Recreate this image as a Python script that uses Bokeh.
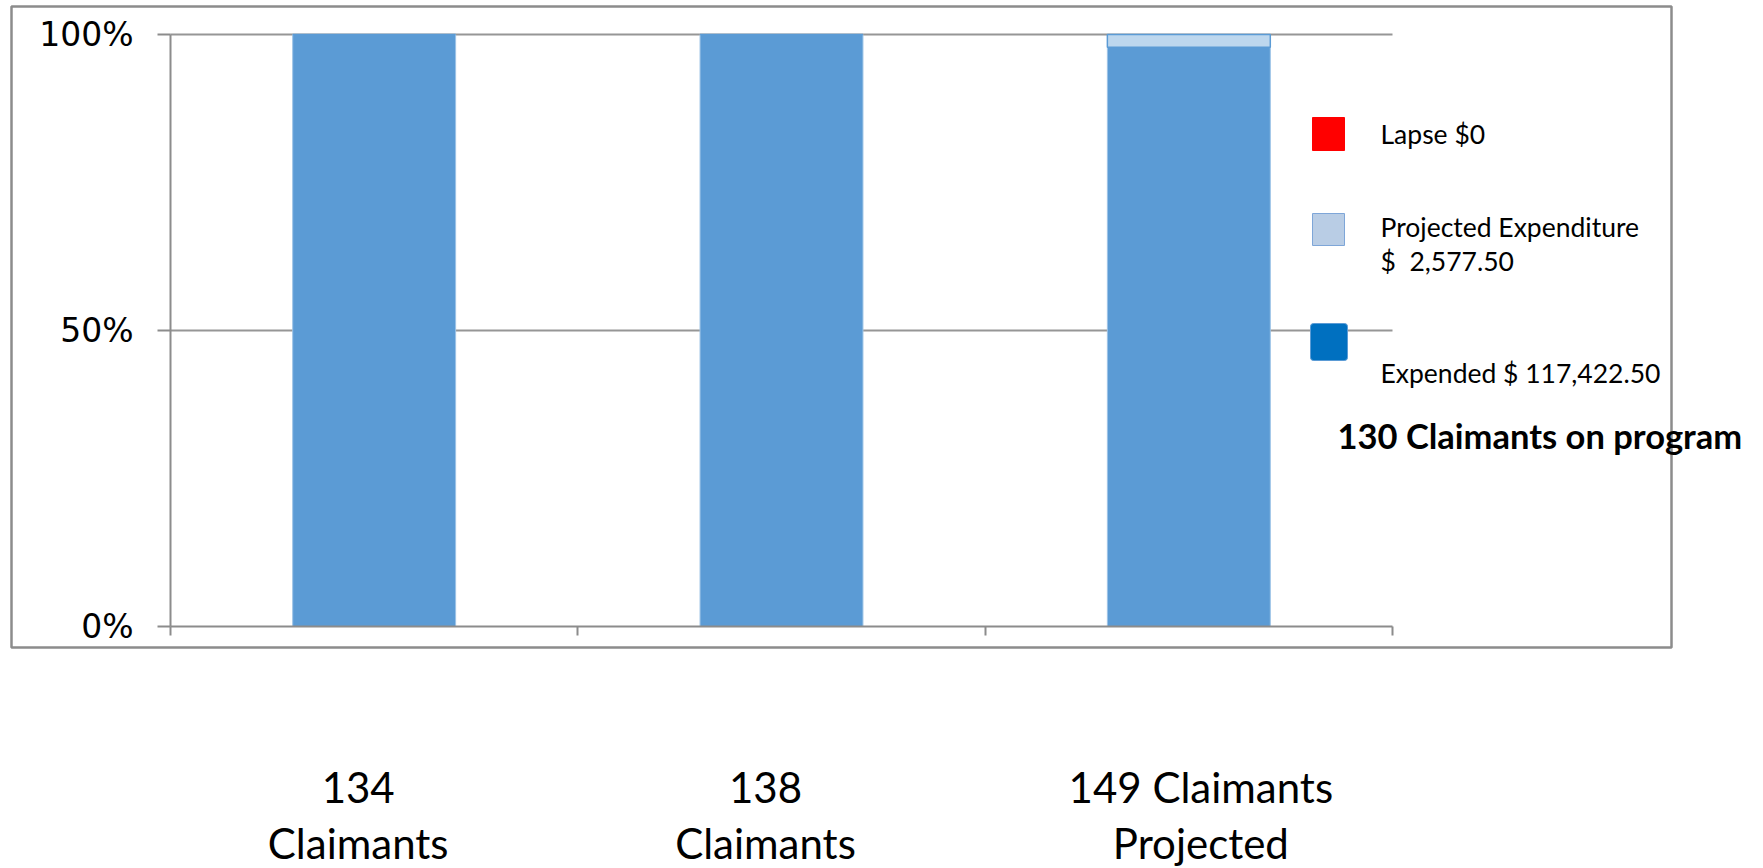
from bokeh.plotting import figure
from bokeh.models import Range1d, FixedTicker, Label, BoxAnnotation
from bokeh.embed import file_html
from bokeh.resources import INLINE

# ---------------- data ----------------
categories = ["134\nClaimants", "138\nClaimants", "149 Claimants\nProjected"]
expended_amount = 117422.50
projected_amount = 2577.50
lapse_amount = 0.0
total_amount = expended_amount + projected_amount + lapse_amount
expended_share = [1.0, 1.0, expended_amount / total_amount]
projected_share = [0.0, 0.0, projected_amount / total_amount]
lapse_share = [0.0, 0.0, lapse_amount / total_amount]
y_ticks = [0.0, 0.5, 1.0]
y_tick_labels = ["0%", "50%", "100%"]
grid_ticks = [0.5, 1.0]
legend_lines = [["Lapse $0"], ["Projected Expenditure", "$\u00a0\u00a02,577.50"], ["Expended $ 117,422.50"]]
note_text = "130 Claimants on program"

# ---------------- layout (page pixels) ----------------
N = len(categories)
FIG_W, FIG_H = 1760, 867
PLOT_LEFT_PX, PLOT_TOP_PX, PLOT_W, PLOT_H = 170, 34, 1222, 592
CAT_LABEL_SHIFT_PX = [-16, -16, 12]   # text boxes in the original are not exactly centred


def dx(px):
    return (px - PLOT_LEFT_PX) / PLOT_W * N


def dy(py):
    return (PLOT_TOP_PX + PLOT_H - py) / PLOT_H


GRAY = "#8c8c8c"
BAR_BLUE = "#5B9BD5"
FONT = "Lato"

# the frame covers the whole canvas so that nothing is clipped; axes are fixed in place
p = figure(
    output_backend="svg", toolbar_location=None,
    frame_width=FIG_W, frame_height=FIG_H,
    x_range=Range1d(dx(0), dx(FIG_W)), y_range=Range1d(dy(FIG_H), dy(0)),
    min_border=0,
)
p.outline_line_color = None
p.background_fill_color = "white"
p.border_fill_color = "white"
p.xgrid.visible = False
p.ygrid.visible = False

# outer chart box
p.add_layout(BoxAnnotation(left=dx(11), right=dx(1671), top=dy(6), bottom=dy(647),
                           fill_color=None, fill_alpha=0, line_color=GRAY, line_alpha=1,
                           line_width=2.5, level="underlay"))

# horizontal grid lines (within the plot area only)
p.segment(x0=[0] * len(grid_ticks), x1=[N] * len(grid_ticks), y0=grid_ticks, y1=grid_ticks,
          line_color="#969696", line_width=2)

# bars
xs = [i + 0.5 for i in range(N)]
src = dict(x=xs, expended=expended_share, projected=projected_share, lapse=lapse_share)
p.vbar_stack(["expended", "projected", "lapse"], x="x", width=0.4, source=src,
             fill_color=[BAR_BLUE, "#BDD7EE", "#FF0000"],
             line_color=["#9DC3E6", BAR_BLUE, "#FF0000"], line_width=[1, 1.5, 1],
             line_alpha=[1, 1, 0])

# x axis: category labels under the bars, tick marks at category boundaries
label_pos = [x + s / PLOT_W * N for x, s in zip(xs, CAT_LABEL_SHIFT_PX)]
xa = p.xaxis[0]
xa.fixed_location = 0
xa.bounds = (0, N)
xa.ticker = FixedTicker(ticks=label_pos, minor_ticks=list(range(N + 1)))
xa.major_label_overrides = {x: c for x, c in zip(label_pos, categories)}
xa.major_label_text_font = FONT
xa.major_label_text_font_size = "42px"
xa.major_label_text_color = "black"
xa.major_label_text_line_height = 1.12
xa.major_label_standoff = 126
xa.major_tick_out = 0
xa.major_tick_in = 0
xa.major_tick_line_color = None
xa.minor_tick_out = 9
xa.minor_tick_in = 0
xa.minor_tick_line_color = GRAY
xa.minor_tick_line_width = 2
xa.axis_line_color = GRAY
xa.axis_line_width = 2

ya = p.yaxis[0]
ya.fixed_location = 0
ya.bounds = (0, 1)
ya.ticker = FixedTicker(ticks=y_ticks, minor_ticks=[])
ya.major_label_overrides = {t: l for t, l in zip(y_ticks, y_tick_labels)}
ya.major_label_text_font = "DejaVu Sans"
ya.major_label_text_font_size = "33px"
ya.major_label_text_color = "black"
ya.major_label_standoff = 24
ya.major_tick_out = 13
ya.major_tick_in = 0
ya.minor_tick_line_color = None
ya.axis_line_color = GRAY
ya.axis_line_width = 2
ya.major_tick_line_color = GRAY
ya.major_tick_line_width = 2

# legend (drawn as in the original slide)
LEG_BOXES = [(1312, 1344, 117, 150, "#FF0000", "#FF0000", 0),
             (1312, 1344, 213, 245, "#B9CDE5", "#7EA6D8", 0),
             (1310, 1347, 323, 360, "#0070C0", "#5B9BD5", 3)]
for (l, r, t, b, fc, lc, rad) in LEG_BOXES:
    p.add_layout(BoxAnnotation(left=dx(l), right=dx(r), top=dy(t), bottom=dy(b),
                               fill_color=fc, fill_alpha=1, line_color=lc, line_alpha=1,
                               line_width=1, border_radius=rad, level="overlay"))
LEG_TEXT_X = 1380
LEG_TEXT_Y = [[133], [226, 260], [372]]
for lines, ys in zip(legend_lines, LEG_TEXT_Y):
    for txt, ypx in zip(lines, ys):
        p.add_layout(Label(x=dx(LEG_TEXT_X), y=dy(ypx), text=txt,
                           text_align="left", text_baseline="middle",
                           text_font=FONT, text_font_size="26.5px", text_color="black"))

p.add_layout(Label(x=dx(1337), y=dy(435), text=note_text, text_align="left",
                   text_baseline="middle", text_font=FONT, text_font_size="34.5px",
                   text_font_style="bold", text_color="black"))

open("out.html", "w").write(file_html(p, INLINE))
